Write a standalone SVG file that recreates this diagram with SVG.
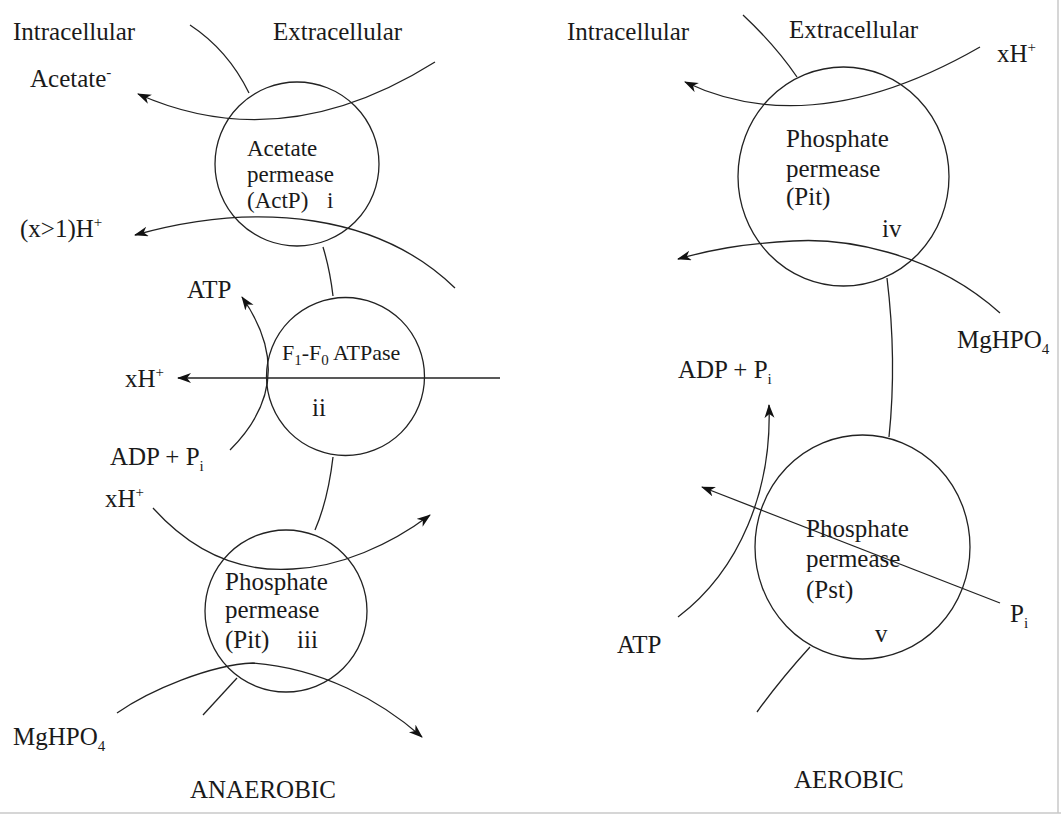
<svg xmlns="http://www.w3.org/2000/svg" width="1061" height="818" viewBox="0 0 1061 818">
<defs>
<style>
.t{font-family:"Liberation Serif","Times New Roman",serif;font-size:25px;fill:#1a1a1a}
.m{font-size:23px}
.s{font-size:15px}
.c{fill:none;stroke:#222;stroke-width:1.3}
.l{fill:none;stroke:#222;stroke-width:1.3}
.a{fill:none;stroke:#222;stroke-width:1.3;marker-end:url(#ah)}
.b{stroke:#c8c8c8;stroke-width:1.5}
</style>
<marker id="ah" markerUnits="userSpaceOnUse" markerWidth="16" markerHeight="12" refX="13" refY="5" orient="auto">
<path d="M0,0 L14,5 L0,10 L4,5 Z" fill="#111"/>
</marker>
</defs>
<rect width="1061" height="818" fill="#fff"/>
<line class="b" x1="0" y1="813" x2="1061" y2="813"/>
<line class="b" x1="1058" y1="0" x2="1058" y2="813"/>

<g id="connectors">
<path class="l" d="M190,25 Q228,50 249,93"/>
<path class="a" d="M435,62 Q282,158 138,94"/>
<path class="a" d="M455,288 C380,215 260,200 135,235"/>
<path class="l" d="M323,247 Q330,270 333,296"/>
<path class="a" d="M500,378 L178,378"/>
<path class="a" d="M230,450 Q300,380 242,297"/>
<path class="l" d="M333,457 Q328,500 315,530"/>
<path class="a" d="M153,508 C200,560 250,572 293,569 C340,567 390,545 430,515"/>
<path class="a" d="M117,713 C150,690 210,665 253,663 C320,668 380,700 422,737"/>
<path class="l" d="M203,715 L237,678"/>
<path class="l" d="M743,15 Q775,45 797,77"/>
<path class="a" d="M980,47 Q813,143 685,82"/>
<path class="a" d="M1000,313 C930,250 840,238 793,241 C740,244 710,250 678,259"/>
<path class="l" d="M887,278 Q897,360 889,437"/>
<path class="a" d="M678,617 C740,570 772,490 769,405"/>
<path class="a" d="M1000,603 L702,487"/>
<path class="l" d="M810,647 Q780,680 757,712"/>
</g>

<g id="node-actp">
<circle class="c" cx="297" cy="164" r="82"/>
<text class="t m" x="247" y="156">Acetate</text>
<text class="t m" x="247" y="182">permease</text>
<text class="t m" x="247" y="208">(ActP)</text>
<text class="t m" x="327" y="208">i</text>
</g>

<g id="node-atpase">
<circle class="c" cx="345.5" cy="376.5" r="79"/>
<text class="t" x="282" y="360" style="font-size:22px">F<tspan class="s" dy="5">1</tspan><tspan dy="-5">-F</tspan><tspan class="s" dy="5">0</tspan><tspan dy="-5"> ATPase</tspan></text>
<text class="t" x="312" y="416">ii</text>
</g>

<g id="node-pit-anaerobic">
<circle class="c" cx="286" cy="611" r="81"/>
<text class="t" x="225" y="590">Phosphate</text>
<text class="t" x="225" y="618">permease</text>
<text class="t" x="225" y="648">(Pit)</text>
<text class="t" x="297" y="648">iii</text>
</g>

<g id="node-pit-aerobic">
<ellipse class="c" cx="843.5" cy="176.5" rx="105.5" ry="109.5"/>
<text class="t" x="786" y="147">Phosphate</text>
<text class="t" x="786" y="177">permease</text>
<text class="t" x="786" y="205">(Pit)</text>
<text class="t" x="882" y="237">iv</text>
</g>

<g id="node-pst">
<ellipse class="c" cx="862.5" cy="547" rx="107.5" ry="112"/>
<text class="t" x="806" y="537">Phosphate</text>
<text class="t" x="806" y="567">permease</text>
<text class="t" x="806" y="598">(Pst)</text>
<text class="t" x="875" y="642">v</text>
</g>

<g id="labels">
<text class="t" x="13" y="40">Intracellular</text>
<text class="t" x="273" y="40">Extracellular</text>
<text class="t" x="30" y="87">Acetate<tspan class="s" dy="-10">-</tspan></text>
<text class="t" x="20" y="237">(x&gt;1)H<tspan class="s" dy="-10">+</tspan></text>
<text class="t" x="187" y="298">ATP</text>
<text class="t" x="125" y="387">xH<tspan class="s" dy="-10">+</tspan></text>
<text class="t" x="110" y="465">ADP + P<tspan class="s" dy="6">i</tspan></text>
<text class="t" x="105" y="507">xH<tspan class="s" dy="-10">+</tspan></text>
<text class="t" x="13" y="745">MgHPO<tspan class="s" dy="6">4</tspan></text>
<text class="t" x="190" y="798">ANAEROBIC</text>
<text class="t" x="567" y="40">Intracellular</text>
<text class="t" x="789" y="38">Extracellular</text>
<text class="t" x="997" y="62">xH<tspan class="s" dy="-10">+</tspan></text>
<text class="t" x="957" y="348">MgHPO<tspan class="s" dy="6">4</tspan></text>
<text class="t" x="678" y="378">ADP + P<tspan class="s" dy="6">i</tspan></text>
<text class="t" x="1010" y="622">P<tspan class="s" dy="6">i</tspan></text>
<text class="t" x="617" y="653">ATP</text>
<text class="t" x="794" y="788">AEROBIC</text>
</g>
</svg>
